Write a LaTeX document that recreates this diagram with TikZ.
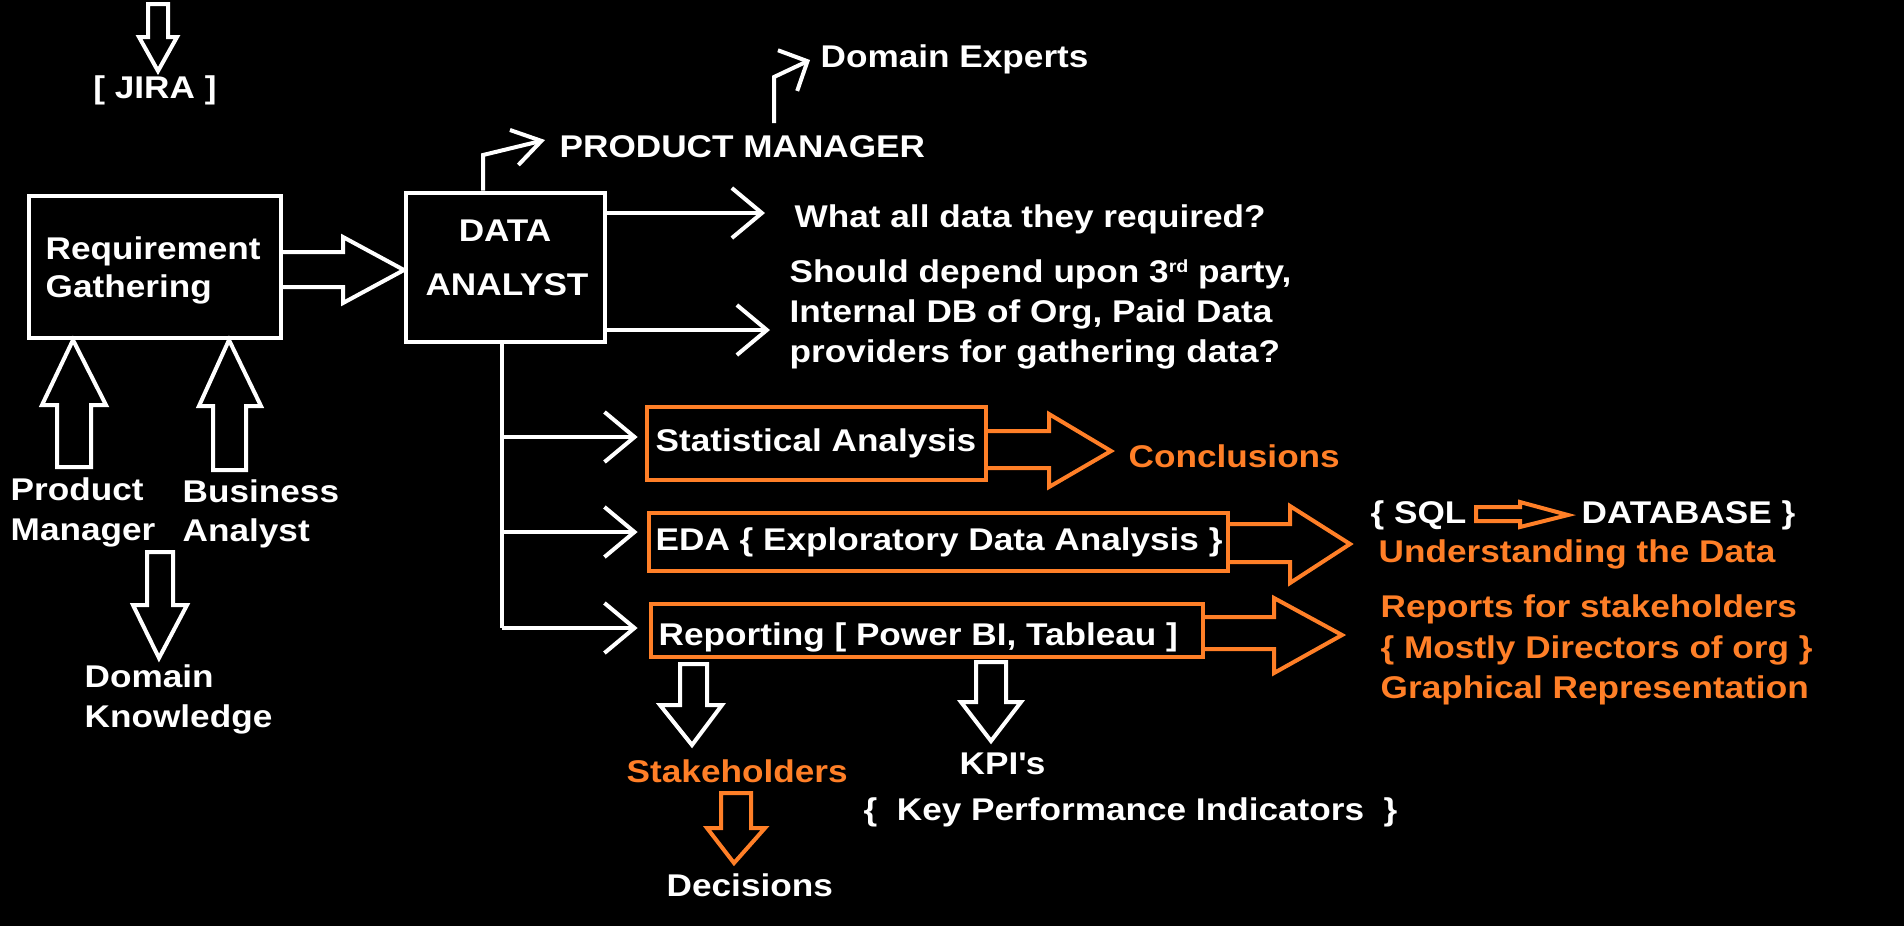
\documentclass[tikz,border=0pt]{standalone}
\usepackage{fontspec}
\setmainfont{Liberation Sans}[FakeStretch=1.12]
\usetikzlibrary{arrows.meta,calc}
\definecolor{porange}{RGB}{255,127,39}
\newcommand{\supx}[1]{\raisebox{2.7pt}{\fontsize{5pt}{6pt}\selectfont #1}}
\begin{document}
\begin{tikzpicture}[x=0.01cm,y=-0.01cm,
  txt/.style={font=\bfseries\fontsize{8.93pt}{11.4pt}\selectfont, text=white, inner sep=0pt, anchor=base west},
  otxt/.style={txt, text=porange},
  wbox/.style={draw=white, line width=0.045cm, inner sep=0pt},
  obox/.style={draw=porange, line width=0.045cm, inner sep=0pt},
  blkw/.style={draw=white, line width=0.04cm},
  blko/.style={draw=porange, line width=0.04cm},
  thinline/.style={draw=white, line width=0.04cm},
  thinarr/.style={thinline, -{Straight Barb[length=0.3cm,width=0.5cm]}},
]
\fill[black] (0,0) rectangle (1904,926);
\useasboundingbox (0,0) rectangle (1904,926);

% boxes
\node[wbox, minimum width=2.52cm, minimum height=1.42cm] (rg) at (155,267) {};
\node[wbox, minimum width=1.99cm, minimum height=1.49cm] (da) at (505.5,267.5) {};
\node[obox, minimum width=3.39cm, minimum height=0.73cm] (sa) at (816.5,443.5) {};
\node[obox, minimum width=5.79cm, minimum height=0.58cm] (eda) at (938.5,542) {};
\node[obox, minimum width=5.52cm, minimum height=0.53cm] (rep) at (927,630.5) {};

% texts
\node[txt] (rg1) at (45,259) {Requirement};
\node[txt] (rg2) at (45,297) {Gathering};
\node[txt, anchor=base] (da1) at (505,241) {DATA};
\node[txt, anchor=base] (da2) at (507,295) {ANALYST};
\node[txt, anchor=base] (jira) at (155,98) {[ JIRA ]};
\node[txt] (pm) at (559,157) {PRODUCT MANAGER};
\node[txt] (de) at (820,67) {Domain Experts};
\node[txt] (q1) at (794,227) {What all data they required?};
\node[txt] (q2a) at (789,282) {Should depend upon 3\supx{rd} party,};
\node[txt] (q2b) at (789,322) {Internal DB of Org, Paid Data};
\node[txt] (q2c) at (789,362) {providers for gathering data?};
\node[txt] (sat) at (655,451) {Statistical Analysis};
\node[otxt] (concl) at (1128,467) {Conclusions};
\node[txt] (edat) at (655,550) {EDA \{ Exploratory Data Analysis \}};
\node[txt] (sql) at (1370,523) {\{ SQL};
\node[txt] (db) at (1581,523) {DATABASE \}};
\node[otxt] (und) at (1378,562) {Understanding the Data};
\node[txt] (rept) at (658,645) {Reporting [ Power BI, Tableau ]};
\node[otxt] (r1) at (1380,617) {Reports for stakeholders};
\node[otxt] (r2) at (1380,658) {\{ Mostly Directors of org \}};
\node[otxt] (r3) at (1380,698) {Graphical Representation};
\node[otxt] (stk) at (626,782) {Stakeholders};
\node[txt] (kpi) at (959,774) {KPI\textquotesingle s};
\node[txt] (kpid) at (863,820) {\{\ \ Key Performance Indicators\ \ \}};
\node[txt] (dec) at (666,896) {Decisions};
\node[txt] (pm1) at (10,500) {Product};
\node[txt] (pm2) at (10,540) {Manager};
\node[txt] (ba1) at (182,502) {Business};
\node[txt] (ba2) at (182,541) {Analyst};
\node[txt] (dk1) at (84,687) {Domain};
\node[txt] (dk2) at (84,727) {Knowledge};

% thin connectors
\coordinate (pmk) at (483,155);
\coordinate (pmtip) at (545,140);
\draw[thinline, -{Straight Barb[length=0.28cm,width=0.36cm]}] (da.north -| pmk) -- (pmk) -- (pmtip);
\coordinate (dek) at (774,123);
\coordinate (dek2) at (774,77);
\coordinate (detip) at (810,60);
\draw[thinline, -{Straight Barb[length=0.22cm,width=0.45cm]}] (dek) -- (dek2) -- (detip);
\coordinate (q1tip) at (765,213);
\draw[thinarr] (da.east |- q1tip) -- (q1tip);
\coordinate (q2tip) at (770,330);
\draw[thinarr] (da.east |- q2tip) -- (q2tip);
\coordinate (b1) at (502,437);
\coordinate (b2) at (502,532);
\coordinate (b3) at (502,628);
\draw[thinline] (da.south -| b3) -- (b3);
\draw[thinarr] (b1) -- ([xshift=-0.07cm]b1 -| sa.west);
\draw[thinarr] (b2) -- ([xshift=-0.09cm]b2 -| eda.west);
\draw[thinarr] (b3) -- ([xshift=-0.11cm]b3 -| rep.west);

% white block arrows
\draw[blkw] (281,252) -- (343,252) -- (343,237) -- (404,270) -- (343,303) -- (343,287) -- (281,287);
\draw[blkw] (148,4) -- (148,37) -- (139,37) -- (158,71) -- (177,37) -- (168,37) -- (168,4) -- cycle;
\draw[blkw] (57,467) -- (57,405) -- (42,405) -- (73,340) -- (106,405) -- (91,405) -- (91,467) -- cycle;
\draw[blkw] (213,470) -- (213,406) -- (199,406) -- (229,340) -- (261,406) -- (246,406) -- (246,470) -- cycle;
\draw[blkw] (147,552) -- (147,605) -- (133,605) -- (159,658) -- (187,605) -- (173,605) -- (173,552) -- cycle;
\draw[blkw] (680,664) -- (680,705) -- (660,705) -- (692,745) -- (722,705) -- (707,705) -- (707,664) -- cycle;
\draw[blkw] (976,662) -- (976,702) -- (961,702) -- (991,741) -- (1021,702) -- (1006,702) -- (1006,662) -- cycle;

% orange block arrows
\draw[blko] (721,793) -- (721,828) -- (707,828) -- (734,863) -- (765,828) -- (751,828) -- (751,793) -- cycle;
\draw[blko] (986,431) -- (1049,431) -- (1049,414) -- (1111,451) -- (1049,487) -- (1049,468) -- (986,468);
\draw[blko] (1228,524) -- (1290,524) -- (1290,506) -- (1350,544) -- (1290,583) -- (1290,562) -- (1228,562);
\draw[blko] (1203,617) -- (1274,617) -- (1274,598) -- (1342,635) -- (1274,673) -- (1274,649) -- (1203,649);
\draw[blko] (1476,507) -- (1520,507) -- (1520,502) -- (1568,515) -- (1520,527) -- (1520,521) -- (1476,521) -- cycle;
\end{tikzpicture}
\end{document}
